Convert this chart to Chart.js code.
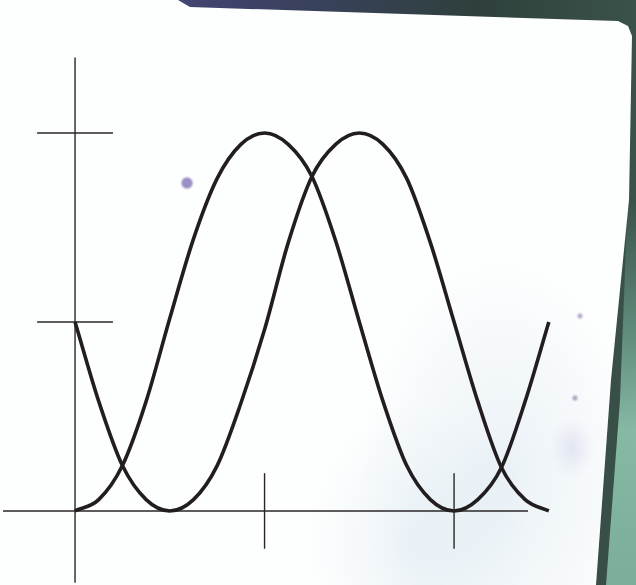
<!DOCTYPE html>
<html lang="en">
<head>
<meta charset="UTF-8">
<title>Two waves</title>
<script src="https://cdn.jsdelivr.net/npm/chart.js"></script>
<style>
    * { margin: 0; padding: 0; }
    body {
        width: 636px; height: 585px; overflow: hidden; position: relative;
        background: linear-gradient(to right, #55528e 0%, #3c4266 40%, #2f403c 75%, #3a5249 100%);
    }
    .ground {
        position: absolute; inset: 0;
        background: linear-gradient(to bottom, rgba(58,82,73,0) 0px, rgba(58,82,73,0) 200px, #5f8b7b 330px, #86b9a4 430px, #7aae98 585px);
        clip-path: polygon(636px 40px, 636px 585px, 606px 585px, 620px 400px, 634px 40px);
    }
    .papel {
        position: absolute; inset: 0;
        background: #fdfefe;
        clip-path: polygon(0 0, 178px 0, 190px 7px, 618px 21px, 628px 26px, 632px 36px, 629px 200px, 611px 380px, 596px 585px, 0 585px);
    }
    .wash {
        position: absolute; inset: 0;
        background:
            radial-gradient(circle at 187px 183px, #9b8fc4 0, #9b8fc4 4px, rgba(155,143,196,0) 7px),
            radial-gradient(circle at 580px 316px, #a79cbf 0, rgba(167,156,191,0) 4px),
            radial-gradient(circle at 575px 398px, #9d93b2 0, rgba(157,147,178,0) 4px),
            radial-gradient(ellipse 22px 30px at 572px 448px, rgba(214,214,234,0.55), rgba(224,224,240,0) 100%),
            radial-gradient(ellipse 140px 220px at 500px 480px, rgba(214,228,238,0.5), rgba(226,236,242,0) 100%),
            radial-gradient(ellipse 110px 140px at 420px 545px, rgba(222,234,242,0.55), rgba(232,240,245,0) 100%);
        clip-path: polygon(0 0, 178px 0, 190px 7px, 618px 21px, 628px 26px, 632px 36px, 629px 200px, 611px 380px, 596px 585px, 0 585px);
    }
    .wrap { position: absolute; left: 0; top: 0; width: 636px; height: 585px; }
</style>
</head>
<body>
<div class="ground"></div>
<div class="papel"></div>
<div class="wash"></div>
<div class="wrap"><canvas id="grafico"></canvas></div>
<script>
const xs = [0, 0.125, 0.25, 0.375, 0.5, 0.625, 0.75, 0.875, 1, 1.125, 1.25, 1.375, 1.5,
            1.625, 1.75, 1.875, 2, 2.125, 2.25, 2.375, 2.5];
// curve that starts at the origin
const curvaB = [0.00, 0.06, 0.24, 0.58, 1.02, 1.44, 1.76, 1.94, 2.00, 1.94, 1.77, 1.43, 1.00,
                0.58, 0.24, 0.06, 0.00, 0.06, 0.23, 0.58, 1.00];
// curve that starts at 1
const curvaA = [1.00, 0.58, 0.24, 0.06, 0.00, 0.06, 0.24, 0.57, 0.96, 1.42, 1.77, 1.94, 2.00,
                1.94, 1.76, 1.42, 1.00, 0.58, 0.23, 0.06, 0.00];

// axes (drawn as crossing lines, no labels)
const xTicks = [1, 2];
const yTicks = [1, 2];
const xAxisRange = [-0.38, 2.39];
const yAxisRange = [-0.38, 2.40];
const tickHalf = 0.2;

const eixos = {
    id: 'eixos',
    beforeDatasetsDraw(chart) {
        const ctx = chart.ctx;
        const x = chart.scales.x, y = chart.scales.y;
        ctx.save();
        ctx.strokeStyle = '#2a2627';
        ctx.lineWidth = 1.4;
        const linha = (x1, y1, x2, y2) => {
            ctx.beginPath();
            ctx.moveTo(x.getPixelForValue(x1), y.getPixelForValue(y1));
            ctx.lineTo(x.getPixelForValue(x2), y.getPixelForValue(y2));
            ctx.stroke();
        };
        linha(xAxisRange[0], 0, xAxisRange[1], 0);
        linha(0, yAxisRange[0], 0, yAxisRange[1]);
        xTicks.forEach(t => linha(t, -tickHalf, t, tickHalf));
        yTicks.forEach(t => linha(-tickHalf, t, tickHalf, t));
        ctx.restore();
    }
};

const serie = (dados) => ({
    data: xs.map((v, i) => ({ x: v, y: dados[i] })),
    borderColor: '#221e1f',
    borderWidth: 3.6,
    pointRadius: 0,
    fill: false,
    cubicInterpolationMode: 'monotone'
});

new Chart(document.getElementById('grafico'), {
    type: 'line',
    data: { datasets: [serie(curvaB), serie(curvaA)] },
    options: {
        responsive: true,
        maintainAspectRatio: false,
        animation: false,
        layout: { padding: 0 },
        plugins: { legend: { display: false }, tooltip: { enabled: false } },
        scales: {
            x: { type: 'linear', display: false, min: -0.396, max: 2.960 },
            y: { type: 'linear', display: false, min: -0.392, max: 2.704 }
        }
    },
    plugins: [eixos]
});
</script>
</body>
</html>
